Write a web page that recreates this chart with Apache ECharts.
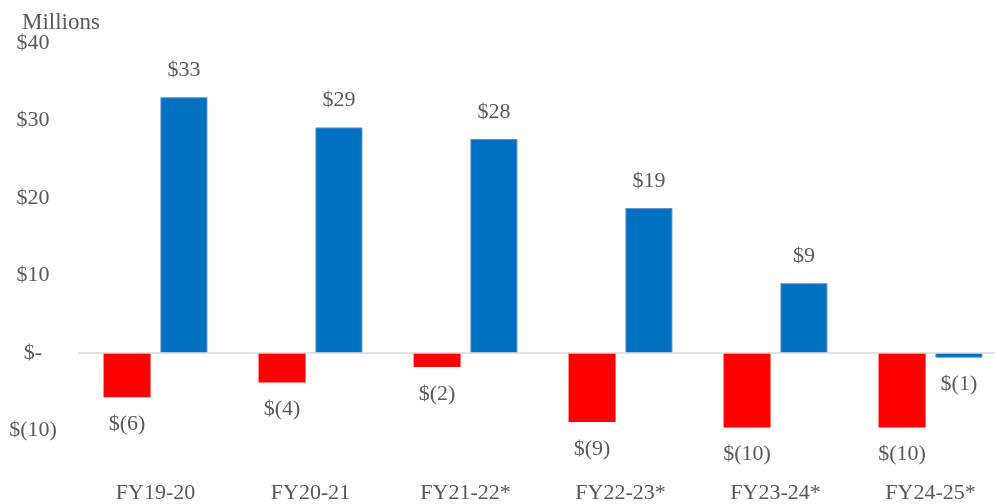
<!DOCTYPE html>
<html>
<head>
<meta charset="utf-8">
<script src="https://cdn.jsdelivr.net/npm/echarts@6/dist/echarts.min.js"></script>
<style>
  html, body { margin: 0; padding: 0; background: #fff; }
  #chart { width: 995px; height: 504px; }
</style>
</head>
<body>
<div id="chart"></div>
<script>
// 数据
const categories = ['FY19-20', 'FY20-21', 'FY21-22*', 'FY22-23*', 'FY23-24*', 'FY24-25*']
const redValues = [-5.7, -3.8, -1.8, -8.9, -9.6, -9.6]
const blueValues = [33.0, 29.1, 27.6, 18.7, 9.0, -0.6]
const yTicks = [-10, 0, 10, 20, 30, 40]

const FONT = '"Liberation Serif", "DejaVu Serif", serif'
const TEXT = '#595959'

function money(v) {
  const r = Math.round(v)
  if (r === 0) return '$-'
  if (r < 0) return '$(' + Math.abs(r) + ')'
  return '$' + r
}

// 负值标签放在柱子下方
function toItems(arr) {
  return arr.map(function (v) {
    return {
      value: v,
      label: { position: v < 0 ? 'bottom' : 'top' },
    }
  })
}

const chart = echarts.init(document.getElementById('chart'))
const option = {
  animation: false,
  title: {
    text: 'Millions',
    left: 17,
    top: 6,
    textStyle: { fontFamily: FONT, fontSize: 23, fontWeight: 'normal', color: TEXT },
  },
  grid: { left: 78, width: 930, top: 43, height: 387.5, outerBoundsMode: 'none', containLabel: false },
  xAxis: {
    type: 'category',
    data: categories,
    axisLine: { show: false, onZero: false },
    axisTick: { show: false },
    axisLabel: { margin: 52, fontFamily: FONT, fontSize: 22, color: TEXT },
  },
  yAxis: {
    type: 'value',
    min: yTicks[0],
    max: yTicks[yTicks.length - 1],
    interval: 10,
    splitLine: { show: false },
    axisLine: { show: false },
    axisTick: { show: false },
    axisLabel: {
      align: 'center',
      margin: 45,
      fontFamily: FONT,
      fontSize: 22,
      color: TEXT,
      formatter: money,
    },
  },
  series: [
    {
      type: 'bar',
      data: toItems(redValues),
      barWidth: 47,
      barGap: '21%',
      itemStyle: { color: '#FF0000' },
      label: {
        show: true,
        distance: 16,
        fontFamily: FONT,
        fontSize: 22,
        color: TEXT,
        formatter: function (p) { return money(p.value) },
      },
      markLine: {
        silent: true,
        symbol: 'none',
        label: { show: false },
        lineStyle: { color: '#D9D9D9', width: 1.5, type: 'solid' },
        data: [{ yAxis: 0 }],
      },
    },
    {
      type: 'bar',
      data: toItems(blueValues),
      barWidth: 47,
      barGap: '21%',
      itemStyle: { color: '#0070C0', borderColor: '#5B8FD0', borderWidth: 1 },
      label: {
        show: true,
        distance: 16,
        fontFamily: FONT,
        fontSize: 22,
        color: TEXT,
        formatter: function (p) { return money(p.value) },
      },
    },
  ],
}
chart.setOption(option, true)
</script>
</body>
</html>
